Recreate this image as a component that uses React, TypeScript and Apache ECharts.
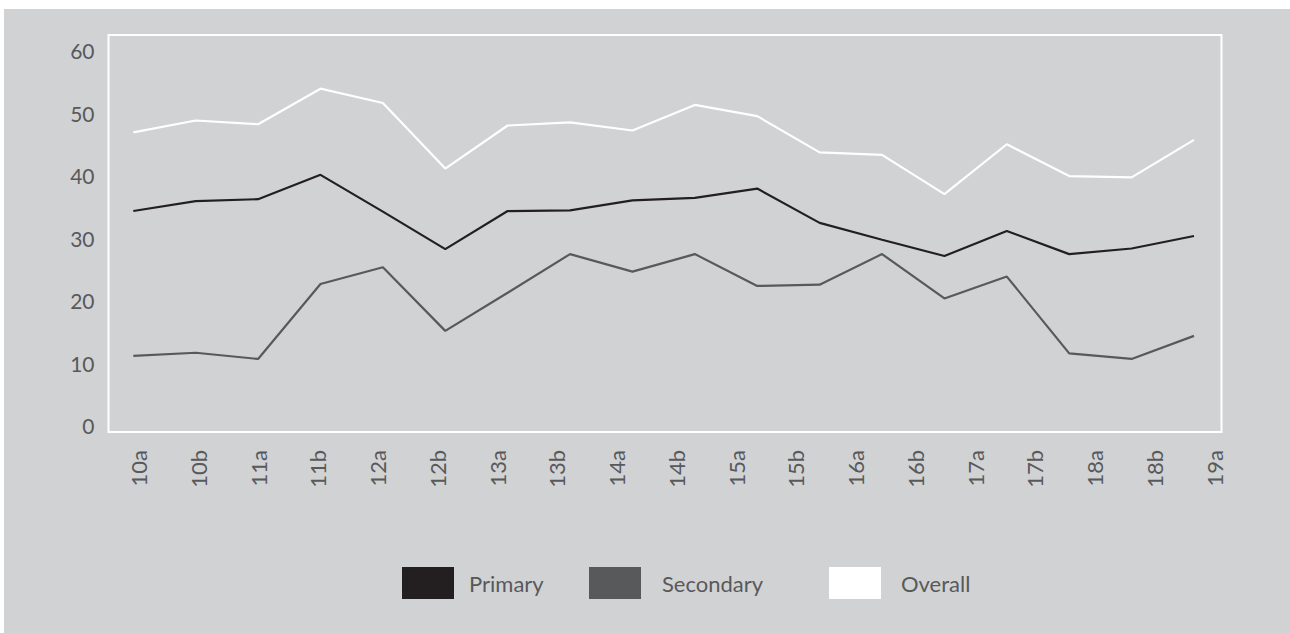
import React, { useEffect, useRef } from 'react';
import * as echarts from 'echarts';

// Tick labels along the bottom (19 labels)
const categories = ['10a', '10b', '11a', '11b', '12a', '12b', '13a', '13b', '14a', '14b', '15a', '15b', '16a', '16b', '17a', '17b', '18a', '18b', '19a'];
// The lines carry 18 evenly spaced points
const pointSlots = ['p1', 'p2', 'p3', 'p4', 'p5', 'p6', 'p7', 'p8', 'p9', 'p10', 'p11', 'p12', 'p13', 'p14', 'p15', 'p16', 'p17', 'p18'];

const primary = [35.4, 37.0, 37.3, 41.2, 35.3, 29.3, 35.4, 35.5, 37.1, 37.5, 39.0, 33.5, 30.8, 28.2, 32.2, 28.5, 29.4, 31.4];
const secondary = [12.2, 12.7, 11.7, 23.7, 26.4, 16.2, 22.3, 28.5, 25.7, 28.5, 23.4, 23.6, 28.5, 21.4, 24.9, 12.6, 11.7, 15.4];
const overall = [48.0, 49.9, 49.3, 55.0, 52.7, 42.2, 49.1, 49.6, 48.3, 52.4, 50.6, 44.8, 44.4, 38.1, 46.1, 41.0, 40.8, 46.8];

const yMin = 0;
const yMax = 63.6;
const yStep = 10;

const seriesNames = ['Primary', 'Secondary', 'Overall'];
const seriesColors = ['#231f20', '#58595b', '#ffffff'];

const FONT = 'Lato, "Open Sans", sans-serif';
const TEXT = '#58595b';
const WEIGHT = 400;

export default function App() {
  const ref = useRef<HTMLDivElement>(null);
  useEffect(() => {
    const chart = echarts.init(ref.current!, null, { renderer: 'svg' });
    const gridBox = { top: 26, bottom: 201 };
    const legendBase = {
      top: 558,
      padding: 0,
      itemWidth: 52,
      itemHeight: 32,
      icon: 'rect',
      selectedMode: false,
      itemStyle: { borderWidth: 0 },
    };
    const data = [primary, secondary, overall];
    chart.setOption({
      animation: false,
      backgroundColor: '#d1d2d4',
      textStyle: { fontFamily: FONT },
      grid: [
        { left: 104.5, right: 68.5, ...gridBox, show: true, borderColor: '#ffffff', borderWidth: 2, backgroundColor: 'transparent' },
        { left: 134.5, right: 76, ...gridBox },
        { left: 129.3, right: 96, ...gridBox },
      ],
      xAxis: [
        { gridIndex: 0, type: 'category', data: categories, show: false },
        {
          gridIndex: 1,
          type: 'category',
          data: categories,
          boundaryGap: false,
          axisLine: { show: false },
          axisTick: { show: false },
          splitLine: { show: false },
          axisLabel: {
            rotate: 90,
            margin: 18,
            fontSize: 22,
            fontWeight: WEIGHT,
            color: TEXT,
            fontFamily: FONT,
            interval: 0,
          },
        },
        { gridIndex: 2, type: 'category', data: pointSlots, boundaryGap: false, show: false },
      ],
      yAxis: [
        {
          gridIndex: 0,
          type: 'value',
          min: yMin,
          max: yMax,
          interval: yStep,
          axisLine: { show: false },
          axisTick: { show: false },
          splitLine: { show: false },
          axisLabel: {
            showMaxLabel: false,
            margin: 14,
            fontSize: 21,
            fontWeight: WEIGHT,
            color: TEXT,
            fontFamily: FONT,
            verticalAlign: 'bottom',
            lineHeight: 13,
          },
        },
        { gridIndex: 1, type: 'value', min: 0, max: 1, show: false },
        { gridIndex: 2, type: 'value', min: yMin, max: yMax, show: false },
      ],
      legend: [
        { ...legendBase, left: 398, data: ['Primary'], textStyle: { fontSize: 22, fontWeight: WEIGHT, color: TEXT, fontFamily: FONT, padding: [0, 0, 0, 10] } },
        { ...legendBase, left: 585, data: ['Secondary'], textStyle: { fontSize: 22, fontWeight: WEIGHT, color: TEXT, fontFamily: FONT, padding: [0, 0, 0, 16] } },
        { ...legendBase, left: 825, data: ['Overall'], textStyle: { fontSize: 22, fontWeight: WEIGHT, color: TEXT, fontFamily: FONT, padding: [0, 0, 0, 15] } },
      ],
      series: seriesNames.map((name, i) => ({
        name,
        type: 'line',
        xAxisIndex: 2,
        yAxisIndex: 2,
        data: data[i],
        symbol: 'none',
        color: seriesColors[i],
        itemStyle: { color: seriesColors[i] },
        lineStyle: { color: seriesColors[i], width: 2.2 },
        z: 2 + i,
      })),
    });
    return () => chart.dispose();
  }, []);
  return (
    <div
      ref={ref}
      style={{ position: 'absolute', left: 4, top: 9, width: 1286, height: 624 }}
    />
  );
}
